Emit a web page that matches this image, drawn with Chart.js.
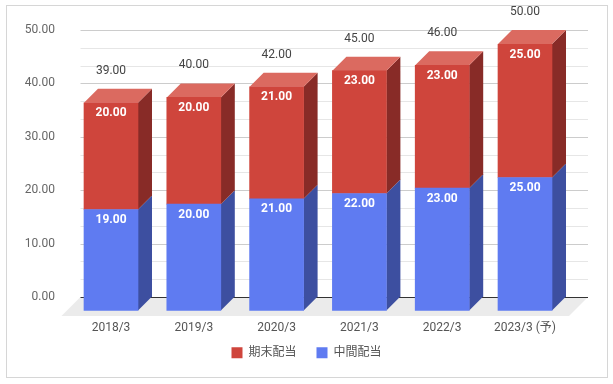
<!DOCTYPE html>
<html>
<head>
<meta charset="utf-8">
<script src="https://cdn.jsdelivr.net/npm/chart.js"></script>
<style>
  body { margin: 0; background: #fff; }
  canvas { display: block; }
</style>
</head>
<body>
<canvas id="divChart" width="613" height="384"></canvas>
<script>
const categories = ['2018/3', '2019/3', '2020/3', '2021/3', '2022/3', '2023/3 (予)'];
const interimDiv = [19, 20, 21, 22, 23, 25];   // 中間配当
const yearEndDiv = [20, 20, 21, 23, 23, 25];   // 期末配当
const totals = [39, 40, 42, 45, 46, 50];
const yTicks = [0, 10, 20, 30, 40, 50];

const FONT = "Roboto, 'Noto Sans CJK JP', sans-serif";
const DEPTH = 14;

// 3d look: back faces are where chart.js puts the bars, front faces are shifted down-left
const fake3d = {
  id: 'fake3d',
  afterLayout(chart) {
    // x labels sit lower than the (short) axis box, don't clip them
    chart.scales.x.bottom = chart.scales.x.top + 45;
  },
  beforeDraw(chart) {
    const c = chart.ctx;
    c.save();
    c.fillStyle = '#fff';
    c.fillRect(0, 0, chart.width, chart.height);
    c.strokeStyle = '#d6d6d6';
    c.lineWidth = 1;
    c.strokeRect(6.5, 5.5, 601, 372);
    c.restore();
  },
  beforeDatasetsDraw(chart) {
    const c = chart.ctx;
    const y = chart.scales.y;
    const left = 80.5, right = 588;
    const y0 = y.getPixelForValue(0);

    // floor
    c.save();
    c.fillStyle = '#ebebeb';
    c.beginPath();
    c.moveTo(left, y0);
    c.lineTo(right, y0);
    c.lineTo(right - 19, y0 + 19);
    c.lineTo(left - 19, y0 + 19);
    c.closePath();
    c.fill();

    // grid
    for (let k = 1; k <= 15; k++) {
      const py = Math.round(y.getPixelForValue(k * 10 / 3)) + 0.5;
      c.strokeStyle = k % 3 === 0 ? '#cccccc' : '#e6e6e6';
      c.beginPath();
      c.moveTo(left, py);
      c.lineTo(right, py);
      c.stroke();
    }
    c.strokeStyle = '#333';
    c.beginPath();
    c.moveTo(left, Math.round(y0) + 0.5);
    c.lineTo(right, Math.round(y0) + 0.5);
    c.stroke();

    // side and top faces
    const nSets = chart.data.datasets.length;
    chart.data.datasets.forEach((ds, di) => {
      const meta = chart.getDatasetMeta(di);
      meta.data.forEach(bar => {
        const p = bar.getProps(['x', 'y', 'base', 'width'], true);
        const xl = p.x - p.width / 2, xr = p.x + p.width / 2;
        c.fillStyle = ds.sideColor;
        c.beginPath();
        c.moveTo(xr - DEPTH, p.y + DEPTH);
        c.lineTo(xr, p.y);
        c.lineTo(xr, p.base);
        c.lineTo(xr - DEPTH, p.base + DEPTH);
        c.closePath();
        c.fill();
        if (di === nSets - 1) {
          c.fillStyle = ds.topColor;
          c.beginPath();
          c.moveTo(xl - DEPTH, p.y + DEPTH);
          c.lineTo(xr - DEPTH, p.y + DEPTH);
          c.lineTo(xr, p.y);
          c.lineTo(xl, p.y);
          c.closePath();
          c.fill();
        }
      });
    });
    c.restore();

    c.save();
    c.translate(-DEPTH, DEPTH);
  },
  afterDatasetsDraw(chart) {
    const c = chart.ctx;
    c.restore();

    c.save();
    c.textAlign = 'center';
    c.textBaseline = 'middle';
    c.font = 'bold 12px ' + FONT;
    c.fillStyle = '#ffffff';
    chart.data.datasets.forEach((ds, di) => {
      chart.getDatasetMeta(di).data.forEach((bar, i) => {
        const p = bar.getProps(['x', 'y'], true);
        c.fillText(ds.data[i].toFixed(2), p.x - DEPTH, p.y + DEPTH + 10.5);
      });
    });

    const top = chart.getDatasetMeta(chart.data.datasets.length - 1);
    c.font = '12px ' + FONT;
    c.fillStyle = '#444';
    top.data.forEach((bar, i) => {
      const p = bar.getProps(['x', 'y'], true);
      c.fillText(totals[i].toFixed(2), p.x - DEPTH, p.y - 18);
    });
    c.restore();
  }
};

new Chart(document.getElementById('divChart'), {
  type: 'bar',
  data: {
    labels: categories,
    datasets: [
      {
        label: '中間配当',
        data: interimDiv,
        backgroundColor: '#5f7bf1',
        borderColor: '#5f7bf1',
        sideColor: '#3d4fa0',
        borderWidth: 0
      },
      {
        label: '期末配当',
        data: yearEndDiv,
        backgroundColor: '#cf453c',
        borderColor: '#cf453c',
        sideColor: '#882b27',
        topColor: '#db6a60',
        borderWidth: 0
      }
    ]
  },
  options: {
    responsive: false,
    animation: false,
    layout: { padding: { left: 6, right: 6, top: 30, bottom: 15.2 } },
    datasets: { bar: { barThickness: 54 } },
    scales: {
      x: {
        stacked: true,
        grid: { display: false, drawTicks: false },
        border: { display: false },
        ticks: {
          autoSkip: false,
          maxRotation: 0,
          padding: 23.5,
          labelOffset: -DEPTH,
          color: '#555',
          font: { family: FONT, size: 12 }
        },
        afterFit(scale) { scale.height = 29.8; }
      },
      y: {
        stacked: true,
        min: 0,
        max: 50,
        // invisible tick marks give the gap between labels and plot
        grid: { display: true, drawOnChartArea: false, drawTicks: true, tickLength: 28.6, color: 'rgba(0,0,0,0)' },
        border: { display: false },
        afterBuildTicks(scale) { scale.ticks = yTicks.map(v => ({ value: v })); },
        ticks: {
          padding: 0,
          color: '#666',
          font: { family: FONT, size: 12 },
          callback: v => Number(v).toFixed(2)
        },
        afterFit(scale) { scale.width = 77.6; }
      },
      y2: {
        position: 'right',
        grid: { display: false, drawTicks: false },
        border: { display: false },
        ticks: { display: false },
        afterFit(scale) { scale.width = 26.6; }
      }
    },
    plugins: {
      tooltip: { enabled: false },
      legend: {
        position: 'bottom',
        reverse: true,
        labels: {
          boxWidth: 11,
          boxHeight: 11,
          padding: 20,
          color: '#555',
          font: { family: FONT, size: 12 }
        }
      }
    }
  },
  plugins: [fake3d]
});
</script>
</body>
</html>
